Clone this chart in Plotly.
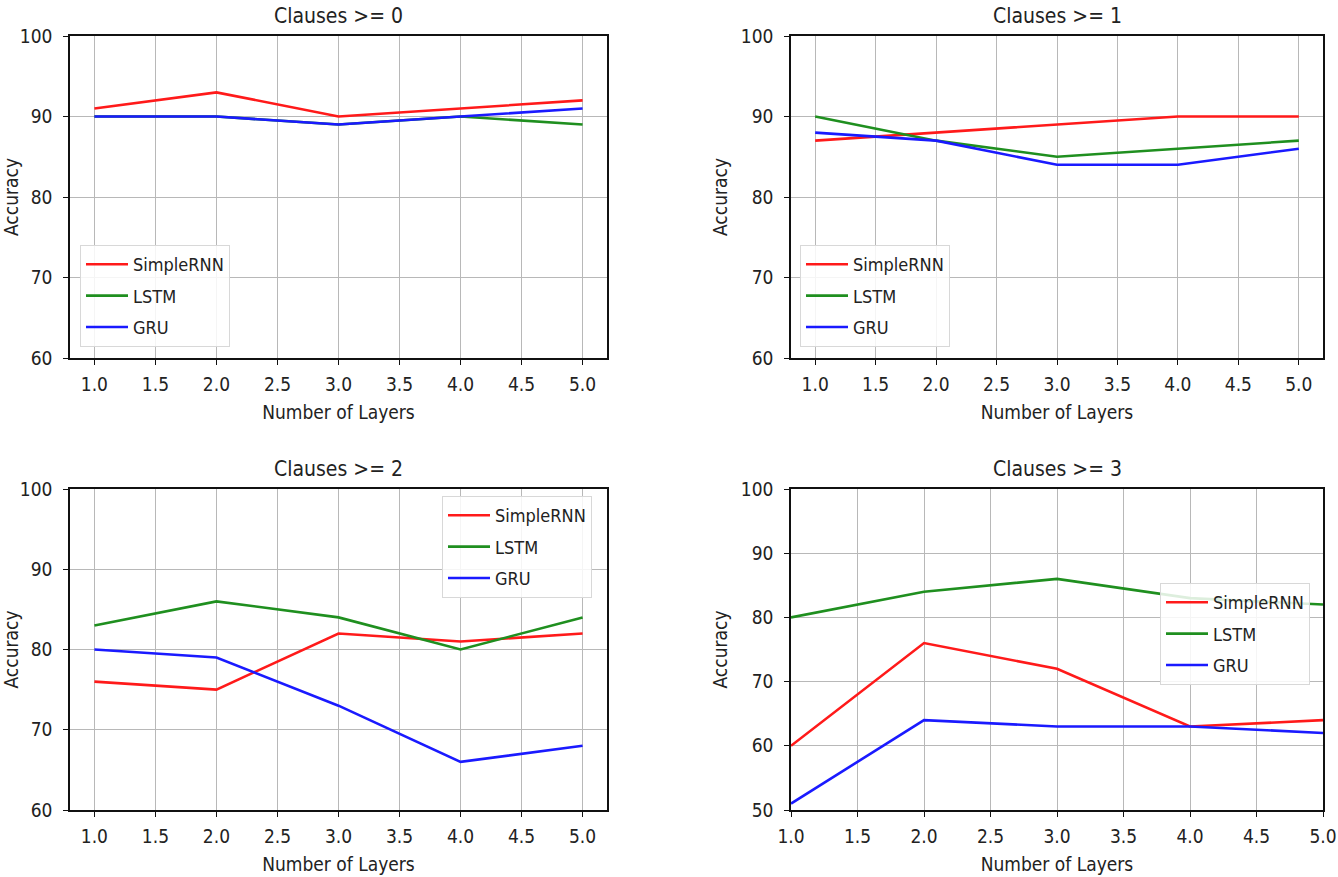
import plotly.graph_objects as go

layers = [1, 2, 3, 4, 5]
titles = ["Clauses >= 0", "Clauses >= 1", "Clauses >= 2", "Clauses >= 3"]
series_names = ["SimpleRNN", "LSTM", "GRU"]

simplernn = [
    [91, 93, 90, 91, 92],
    [87, 88, 89, 90, 90],
    [76, 75, 82, 81, 82],
    [60, 76, 72, 63, 64],
]
lstm = [
    [90, 90, 89, 90, 89],
    [90, 87, 85, 86, 87],
    [83, 86, 84, 80, 84],
    [80, 84, 86, 83, 82],
]
gru = [
    [90, 90, 89, 90, 91],
    [88, 87, 84, 84, 86],
    [80, 79, 73, 66, 68],
    [51, 64, 63, 63, 62],
]
y_ranges = [[60, 100], [60, 100], [60, 100], [50, 100]]
x_ranges = [[0.8, 5.2], [0.8, 5.2], [0.8, 5.2], [1.0, 5.0]]
x_ticks = [1.0, 1.5, 2.0, 2.5, 3.0, 3.5, 4.0, 4.5, 5.0]

W, H = 1338, 877
FONT = "DejaVu Sans Condensed, Liberation Sans Narrow, DejaVu Sans"
colors = ["#ff1a1a", "#1f8f1f", "#1a1aff"]

# panel pixel boxes (left, right, top, bottom)
boxes = [(70, 607, 36, 358), (791, 1323, 36, 358), (70, 607, 489, 810), (791, 1323, 489, 810)]
legend_pos = [(80, 245), (800, 245), (442, 496), (1160, 583)]


def px(xp):
    return xp / W


def py(yp):
    return 1 - yp / H


fig = go.Figure()
layout = dict(
    width=W, height=H, margin=dict(l=0, r=0, t=0, b=0, autoexpand=False),
    paper_bgcolor="white", plot_bgcolor="white",
    font=dict(family=FONT, size=19, color="#222222"),
    annotations=[],
)

for i in range(4):
    sfx = "" if i == 0 else str(i + 1)
    xa, ya = "x" + sfx, "y" + sfx
    leg = "legend" + sfx
    data = [simplernn[i], lstm[i], gru[i]]
    for name, vals, c in zip(series_names, data, colors):
        fig.add_trace(go.Scatter(
            x=layers, y=vals, mode="lines", name=name,
            line=dict(color=c, width=2.6),
            xaxis=xa, yaxis=ya, legend=leg, legendgroup=f"{i}{name}",
        ))
    l, r, t, b = boxes[i]
    axis_common = dict(
        showgrid=True, gridcolor="#b8b8b8", gridwidth=1,
        showline=True, linecolor="#111111", linewidth=1.5, mirror=True,
        ticks="outside", ticklen=5, tickcolor="#111111", zeroline=False,
        automargin=False, ticklabeloverflow="allow",
        tickfont=dict(family=FONT, size=19, color="#222222"),
    )
    layout["xaxis" + sfx] = dict(
        axis_common, domain=[px(l), px(r)], anchor=ya, range=x_ranges[i],
        tickmode="array", tickvals=x_ticks, ticktext=[f"{v:.1f}" for v in x_ticks],
        ticklabelstandoff=3,
        title=dict(text="Number of Layers", standoff=12, font=dict(family=FONT, size=19, color="#222222")),
    )
    layout["yaxis" + sfx] = dict(
        axis_common, domain=[py(b), py(t)], anchor=xa, range=y_ranges[i],
        dtick=10, ticklabelstandoff=7,
        title=dict(text="Accuracy", standoff=8, font=dict(family=FONT, size=19, color="#222222")),
    )
    lx, ly = legend_pos[i]
    layout[leg] = dict(
        x=px(lx), y=py(ly), xanchor="left", yanchor="top",
        bgcolor="rgba(255,255,255,0.85)", bordercolor="#d8d8d8", borderwidth=1,
        font=dict(family=FONT, size=18, color="#222222"), tracegroupgap=5,
        itemwidth=42,
    )
    layout["annotations"].append(dict(
        text=titles[i], x=(px(l) + px(r)) / 2, y=py(t - 6), xref="paper", yref="paper",
        xanchor="center", yanchor="bottom", showarrow=False,
        font=dict(family=FONT, size=21, color="#222222"),
    ))

fig.update_layout(**layout)
fig.write_html("out.html", config={"displayModeBar": False},
               post_script="document.body.style.margin='0px';")
